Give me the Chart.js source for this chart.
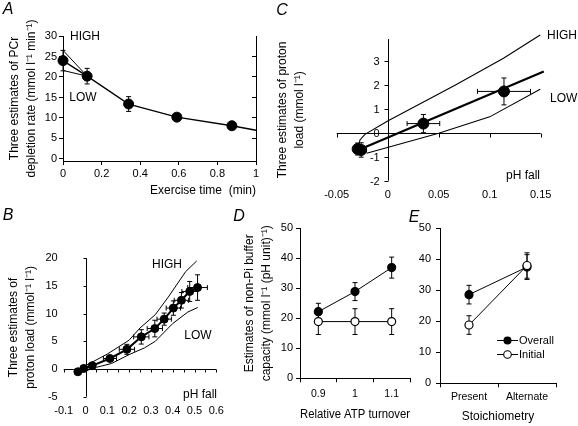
<!DOCTYPE html>
<html>
<head>
<meta charset="utf-8">
<title>PCr depletion, proton load and buffer capacity</title>
<script src="https://cdn.jsdelivr.net/npm/chart.js@4.4.1/dist/chart.umd.min.js"></script>
<style>
body { margin: 0; background: #fff; }
#fig { position: relative; width: 578px; height: 426px; overflow: hidden; font-family: "Liberation Sans", Arial, sans-serif; color: #000; }
#fig canvas { position: absolute; left: 0; top: 0; }
.t { position: absolute; font-size: 12px; line-height: 1; white-space: nowrap; transform: translate(-50%, -50%); }
.t.l { transform: translate(0, -50%); }
.t.r { transform: translate(-100%, -50%); }
.t.tick { font-size: 11px; }
.p { font-size: 16px; font-style: italic; }
.leg { position: absolute; left: 497px; font-size: 11px; line-height: 1; white-space: nowrap; transform: translate(0, -50%); display: flex; align-items: center; }
.leg svg { margin-right: 1px; }
</style>
</head>
<body>
<div id="fig">
<canvas id="chartA" width="578" height="426"></canvas>
<canvas id="chartB" width="578" height="426"></canvas>
<canvas id="chartC" width="578" height="426"></canvas>
<canvas id="chartD" width="578" height="426"></canvas>
<canvas id="chartE" width="578" height="426"></canvas>

<div class="t p" style="left:8px;top:9px">A</div>
<div class="t p" style="left:8px;top:215px">B</div>
<div class="t p" style="left:282px;top:10px">C</div>
<div class="t p" style="left:239px;top:216px">D</div>
<div class="t p" style="left:414px;top:217px">E</div>

<div class="t" style="left:85px;top:36px">HIGH</div>
<div class="t" style="left:83px;top:97px">LOW</div>
<div class="t" style="left:167px;top:264px">HIGH</div>
<div class="t" style="left:198px;top:335px">LOW</div>
<div class="t" style="left:200px;top:394px">pH fall</div>
<div class="t l" style="left:547px;top:35px">HIGH</div>
<div class="t l" style="left:550px;top:98px">LOW</div>
<div class="t r" style="left:540px;top:175px">pH fall</div>

<div class="leg" style="top:340px"><svg width="21" height="10"><line x1="0" y1="5" x2="21" y2="5" stroke="#000" stroke-width="1"/><circle cx="10.5" cy="5" r="4" fill="#000"/></svg>Overall</div>
<div class="leg" style="top:354px"><svg width="21" height="10"><line x1="0" y1="5" x2="21" y2="5" stroke="#000" stroke-width="1"/><circle cx="10.5" cy="5" r="3.8" fill="#fff" stroke="#000" stroke-width="1.1"/></svg>Initial</div>
</div>

<script>
// ---- A: PCr depletion rate vs exercise time
var aTime = [0, 0.125, 0.34, 0.59, 0.875];
var aRate = [24, 20.2, 13.4, 10.2, 8.1];
var aRateErr = [2.5, 1.9, 1.8, 0.9, 0.5];
var aFitTime = [0, 0.125, 0.34, 0.59, 0.875, 1];
var aFitRate = [24, 20.2, 13.4, 10.2, 8.1, 7.0];
var aHighTime = [0, 0.125];
var aHighRate = [26.5, 20.2];
var aLowTime = [0, 0.125];
var aLowRate = [21.6, 20.2];
var aXTicks = [0, 0.2, 0.4, 0.6, 0.8, 1];
var aXLabels = ['0', '0.2', '0.4', '0.6', '0.8', '1'];
var aYTicks = [0, 5, 10, 15, 20, 25, 30];
var aYLabels = ['0', '5', '10', '15', '20', '25', '30'];
var aY2Ticks = [5, 10, 15, 20, 25];

// ---- B: proton load vs pH fall
var bFall = [-0.035, -0.008, 0.031, 0.112, 0.19, 0.256, 0.318, 0.361, 0.403, 0.44, 0.478, 0.514];
var bLoad = [-0.5, 0.1, 0.6, 1.9, 3.55, 5.8, 7.3, 9.0, 11.0, 12.4, 14.0, 14.7];
var bFallErr = [0.008, 0.008, 0.012, 0.03, 0.035, 0.035, 0.035, 0.033, 0.033, 0.033, 0.036, 0.045];
var bLoadErr = [0.3, 0.3, 0.4, 0.5, 0.9, 1.3, 1.5, 1.1, 1.3, 1.4, 1.8, 2.3];
var bHighFall = [-0.03, 0, 0.1, 0.2, 0.25, 0.32, 0.38, 0.46, 0.51];
var bHighLoad = [-0.4, 0.6, 2.7, 5.2, 7.4, 9.8, 13.0, 17.6, 19.5];
var bLowFall = [-0.02, 0.05, 0.12, 0.2, 0.27, 0.32, 0.4, 0.47, 0.515];
var bLowLoad = [-0.6, 0.3, 1.0, 2.6, 3.8, 5.0, 8.2, 10.3, 11.1];
var bXMarks = [-0.1, -0.05, 0.05, 0.1, 0.15, 0.2, 0.25, 0.3, 0.35, 0.4, 0.45, 0.5, 0.55, 0.6];
var bXTicks = [-0.1, 0, 0.1, 0.2, 0.3, 0.4, 0.5, 0.6];
var bXLabels = ['-0.1', '0', '0.1', '0.2', '0.3', '0.4', '0.5', '0.6'];
var bYTicks = [-5, 0, 5, 10, 15, 20];
var bYLabels = ['-5', '0', '5', '10', '15', '20'];

// ---- C: early proton load vs pH fall
var cFall = [-0.0295, -0.026, 0.035, 0.114];
var cLoad = [-0.68, -0.72, 0.38, 1.72];
var cFallErr = [0.004, 0.005, 0.016, 0.026];
var cLoadErr = [0.25, 0.3, 0.38, 0.56];
var cFitFall = [-0.027, 0.153];
var cFitLoad = [-0.69, 2.55];
var cHighFall = [-0.0285, -0.0272, -0.0223, 0, 0.066, 0.1135, 0.1495];
var cHighLoad = [-0.55, -0.3, -0.07, 0.49, 1.98, 3.1, 4.07];
var cLowFall = [-0.0206, 0.05, 0.1, 0.1495];
var cLowLoad = [-0.86, -0.02, 0.66, 1.81];
var cXTicks = [-0.05, 0, 0.05, 0.1, 0.15];
var cXLabels = ['-0.05', '0', '0.05', '0.1', '0.15'];
var cYTicks = [-2, -1, 0, 1, 2, 3];
var cYLabels = ['-2', '-1', '0', '1', '2', '3'];

// ---- D: buffer capacity vs relative ATP turnover
var dTurnover = ['0.9', '1', '1.1'];
var dOverall = [22.2, 28.9, 36.9];
var dOverallErr = [2.8, 3, 3.5];
var dInitial = [18.9, 18.9, 18.9];
var dInitialErr = [4.3, 4.3, 4.3];

// ---- E: buffer capacity vs stoichiometry
var eStoich = ['Present', 'Alternate'];
var eOverall = [28.6, 37.5];
var eOverallErr = [3, 4];
var eInitial = [18.8, 38];
var eInitialErr = [3, 4.1];

var capTicks = [0, 10, 20, 30, 40, 50];
var capLabels = ['0', '10', '20', '30', '40', '50'];

var FONT = '"Liberation Sans", Arial, Helvetica, sans-serif';
Chart.defaults.font.family = FONT;
Chart.defaults.color = '#000';
var tickFont = {family: FONT, size: 11};
var catFont = {family: FONT, size: 10.5};
var titleFont = {family: FONT, size: 12, lineHeight: 1.42};

// whiskers with caps, drawn under the markers
var errorBars = {
  id: 'errorBars',
  beforeDatasetsDraw: function(chart) {
    var ctx = chart.ctx;
    chart.data.datasets.forEach(function(ds, i) {
      if (!ds.yErr && !ds.xErr) return;
      var meta = chart.getDatasetMeta(i);
      var xs = chart.scales[meta.xAxisID], ys = chart.scales[meta.yAxisID];
      var cap = ds.cap || 2.5;
      ctx.save();
      ctx.strokeStyle = '#000';
      ctx.lineWidth = 1;
      ctx.beginPath();
      meta.data.forEach(function(el, j) {
        var raw = ds.data[j];
        var yv = typeof raw === 'object' ? raw.y : raw;
        if (ds.yErr) {
          var y1 = ys.getPixelForValue(yv + ds.yErr[j]);
          var y2 = ys.getPixelForValue(yv - ds.yErr[j]);
          ctx.moveTo(el.x, y1); ctx.lineTo(el.x, y2);
          ctx.moveTo(el.x - cap, y1); ctx.lineTo(el.x + cap, y1);
          ctx.moveTo(el.x - cap, y2); ctx.lineTo(el.x + cap, y2);
        }
        if (ds.xErr) {
          var x1 = xs.getPixelForValue(raw.x - ds.xErr[j]);
          var x2 = xs.getPixelForValue(raw.x + ds.xErr[j]);
          ctx.moveTo(x1, el.y); ctx.lineTo(x2, el.y);
          ctx.moveTo(x1, el.y - cap); ctx.lineTo(x1, el.y + cap);
          ctx.moveTo(x2, el.y - cap); ctx.lineTo(x2, el.y + cap);
        }
      });
      ctx.stroke();
      ctx.restore();
    });
  }
};

// axes that cross at the origin (panels B and C), placed through the chart's own scales
function zeroAxes(xMarks, yMarks, tick) {
  return {
    id: 'zeroAxes',
    beforeDatasetsDraw: function(chart) {
      var xs = chart.scales.x, ys = chart.scales.y, a = chart.chartArea, ctx = chart.ctx;
      var x0 = Math.round(xs.getPixelForValue(0)) + 0.5;
      var y0 = Math.round(ys.getPixelForValue(0)) + 0.5;
      ctx.save();
      ctx.setLineDash([]);
      ctx.globalAlpha = 1;
      ctx.globalCompositeOperation = 'source-over';
      ctx.strokeStyle = '#000';
      ctx.lineWidth = 1;
      ctx.beginPath();
      ctx.moveTo(a.left, y0); ctx.lineTo(a.right, y0);
      xMarks.forEach(function(v) {
        var px = Math.round(xs.getPixelForValue(v)) + 0.5;
        ctx.moveTo(px, y0); ctx.lineTo(px, y0 + tick);
      });
      ctx.moveTo(x0, a.top); ctx.lineTo(x0, a.bottom);
      yMarks.forEach(function(v) {
        var py = Math.round(ys.getPixelForValue(v)) + 0.5;
        ctx.moveTo(x0, py); ctx.lineTo(x0 - tick, py);
      });
      ctx.stroke();
      ctx.restore();
    }
  };
}

function pts(xs, ys) {
  return xs.map(function(x, i) { return {x: x, y: ys[i]}; });
}
function setTicks(values) {
  return function(s) { s.ticks = values.map(function(v) { return {value: v}; }); };
}
function useLabels(labels) {
  return function(v, i) { return labels[i]; };
}
function fixWidth(w) { return function(s) { s.width = w; }; }
function fixHeight(h) { return function(s) { s.height = h; }; }

// black axis line with outward tick marks and no grid
function scale(o) {
  var s = {
    type: 'linear',
    border: {display: true, color: '#000', width: 1},
    grid: {drawOnChartArea: false, drawTicks: true, tickLength: 4, color: '#000', lineWidth: 1},
    ticks: {font: tickFont, color: '#000', padding: 2, autoSkip: false, maxRotation: 0},
    title: {display: false}
  };
  for (var k in o) {
    if (s[k] && typeof s[k] === 'object' && o[k] && typeof o[k] === 'object' && !Array.isArray(o[k])) Object.assign(s[k], o[k]);
    else s[k] = o[k];
  }
  return s;
}
// labels only, the line itself comes from zeroAxes
function bare(o) {
  o.border = {display: false};
  o.grid = {display: false, drawTicks: false};
  return scale(o);
}
function yTitle(lines) {
  return {display: true, text: lines, font: titleFont, color: '#000', padding: 0};
}

function curve(xs, ys, w) {
  return {data: pts(xs, ys), showLine: true, borderColor: '#000', borderWidth: w, pointRadius: 0,
          clip: false, xAxisID: 'x', yAxisID: 'y'};
}
function dots(xs, ys, r, yErr, xErr) {
  return {data: pts(xs, ys), showLine: false, pointRadius: r, pointBackgroundColor: '#000',
          pointBorderColor: '#000', pointBorderWidth: 1, yErr: yErr, xErr: xErr,
          clip: false, xAxisID: 'x', yAxisID: 'y'};
}
function series(values, err, open) {
  return {data: values, borderColor: '#000', borderWidth: 1, pointRadius: 4,
          pointBackgroundColor: open ? '#fff' : '#000', pointBorderColor: '#000', pointBorderWidth: 1.2,
          yErr: err, clip: false, xAxisID: 'x', yAxisID: 'y'};
}

function makeChart(id, type, padding, labels, datasets, scales, extra) {
  return new Chart(document.getElementById(id), {
    type: type,
    data: {labels: labels, datasets: datasets},
    options: {
      responsive: false,
      animation: false,
      events: [],
      layout: {padding: padding},
      plugins: {legend: {display: false}, tooltip: {enabled: false}},
      scales: scales
    },
    plugins: (extra ? [extra] : []).concat([errorBars])
  });
}

// A
makeChart('chartA', 'scatter', {left: 6.5, top: 36, right: 322, bottom: 226.5}, undefined, [
  dots(aTime, aRate, 5, aRateErr),
  curve(aFitTime, aFitRate, 1.3),
  curve(aHighTime, aHighRate, 1),
  curve(aLowTime, aLowRate, 1)
], {
  x: scale({axis: 'x', position: 'bottom', min: 0, max: 1, afterBuildTicks: setTicks(aXTicks), afterFit: fixHeight(38.5),
    ticks: {callback: useLabels(aXLabels), padding: 2},
    title: {display: true, text: 'Exercise time  (min)', align: 'end', font: titleFont, color: '#000', padding: 0}}),
  y: scale({axis: 'y', position: 'left', min: -0.5, max: 30, afterBuildTicks: setTicks(aYTicks), afterFit: fixWidth(56.5),
    ticks: {callback: useLabels(aYLabels), padding: 2},
    title: yTitle(['Three estimates of PCr', 'depletion rate (mmol l\u207B\u00B9 min\u207B\u00B9)'])}),
  y2: scale({axis: 'y', position: 'right', min: -0.5, max: 30, afterBuildTicks: setTicks(aY2Ticks), afterFit: fixWidth(0),
    grid: {tickLength: -4}, ticks: {display: false}})
});

// B
makeChart('chartB', 'scatter', {left: 5, top: 258.2, right: 361.7, bottom: 9.3}, undefined, [
  dots(bFall, bLoad, 4, bLoadErr, bFallErr),
  curve(bFall, bLoad, 2),
  curve(bHighFall, bHighLoad, 1),
  curve(bLowFall, bLowLoad, 1)
], {
  x: bare({axis: 'x', position: 'bottom', min: -0.1, max: 0.6, afterBuildTicks: setTicks(bXTicks), afterFit: fixHeight(20),
    ticks: {callback: useLabels(bXLabels), padding: 8}}),
  y: bare({axis: 'y', position: 'left', min: -5, max: 20, afterBuildTicks: setTicks(bYTicks), afterFit: fixWidth(58.7),
    ticks: {callback: useLabels(bYLabels), padding: 6},
    title: yTitle(['Three estimates of', 'proton load (mmol\u207B\u00B9 l\u207B\u00B9)'])})
}, zeroAxes(bXMarks, bYTicks, 3));

// C (its y tick labels sit beside the axis through zero, placed below from the scale)
var chartC = makeChart('chartC', 'scatter', {left: 274.5, top: 39.1, right: 37.3, bottom: 223.3}, undefined, [
  dots(cFall, cLoad, 5.5, cLoadErr, cFallErr),
  curve(cFitFall, cFitLoad, 2.2),
  curve(cHighFall, cHighLoad, 1.1),
  curve(cLowFall, cLowLoad, 1.1)
], {
  x: bare({axis: 'x', position: 'bottom', min: -0.05, max: 0.15, afterBuildTicks: setTicks(cXTicks), afterFit: fixHeight(22),
    ticks: {callback: useLabels(cXLabels), padding: 8}}),
  y: bare({axis: 'y', position: 'left', min: -2, max: 3.9, afterBuildTicks: setTicks(cYTicks), afterFit: fixWidth(62.2),
    ticks: {callback: useLabels(cYLabels), padding: -42.6},
    title: yTitle(['Three estimates of proton', 'load (mmol l\u207B\u00B9)'])})
}, zeroAxes(cXTicks, cYTicks, 4));

var fig = document.getElementById('fig');
var cAxisX = chartC.scales.x.getPixelForValue(0);
cYTicks.forEach(function(v, i) {
  var d = document.createElement('div');
  d.className = 't r tick';
  d.style.left = (cAxisX - 8) + 'px';
  d.style.top = chartC.scales.y.getPixelForValue(v) + 'px';
  d.textContent = cYLabels[i];
  fig.appendChild(d);
});

// D
makeChart('chartD', 'line', {left: 241.5, top: 228.3, right: 168, bottom: 2.5}, dTurnover, [
  series(dInitial, dInitialErr, true),
  series(dOverall, dOverallErr, false)
], {
  x: scale({type: 'category', axis: 'x', position: 'bottom', offset: true, afterFit: fixHeight(45.2),
    grid: {offset: true}, ticks: {font: catFont, padding: 6},
    title: {display: true, text: 'Relative ATP turnover', font: titleFont, color: '#000', padding: 0}}),
  y: scale({axis: 'y', position: 'left', min: 0, max: 50, afterBuildTicks: setTicks(capTicks), afterFit: fixWidth(58.5),
    ticks: {callback: useLabels(capLabels), padding: 3},
    title: yTitle(['Estimates of non-Pi buffer', 'capacity (mmol l\u207B\u00B9 (pH unit)\u207B\u00B9)'])})
});

// E
makeChart('chartE', 'line', {left: 410, top: 228.3, right: 22, bottom: 0.8}, eStoich, [
  series(eInitial, eInitialErr, true),
  series(eOverall, eOverallErr, false)
], {
  x: scale({type: 'category', axis: 'x', position: 'bottom', offset: true, afterFit: fixHeight(41.9),
    grid: {offset: true}, ticks: {font: catFont, padding: 4},
    title: {display: true, text: 'Stoichiometry', font: titleFont, color: '#000', padding: 0}}),
  y: scale({axis: 'y', position: 'left', min: 0, max: 50, afterBuildTicks: setTicks(capTicks), afterFit: fixWidth(30),
    ticks: {callback: useLabels(capLabels), padding: 5}})
});
</script>
</body>
</html>
